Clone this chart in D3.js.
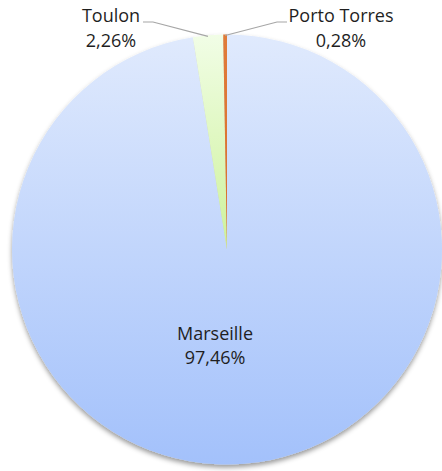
<!DOCTYPE html>
<html lang="fr">
<head>
<meta charset="UTF-8">
<title>Ports</title>
<script src="https://d3js.org/d3.v7.min.js"></script>
<style>
  body { margin: 0; background: #fff; }
  text { font-family: "Open Sans", sans-serif; font-size: 18px; fill: #1f1f1f; }
</style>
</head>
<body>
<div id="chart"></div>
<script>
// values
const ports = ["Marseille", "Toulon", "Porto Torres"];
const shares = [97.46, 2.26, 0.28];
const shareLabels = ["97,46%", "2,26%", "0,28%"];

const width = 442, height = 471;
const cx = 227, cy = 249.5, r = 215;

const svg = d3.select("#chart").append("svg")
    .attr("width", width)
    .attr("height", height);

const defs = svg.append("defs");

// soft shadow under the pie
const shadow = defs.append("filter").attr("id", "shadow")
    .attr("x", "-10%").attr("y", "-10%").attr("width", "120%").attr("height", "120%");
shadow.append("feDropShadow")
    .attr("dx", 0).attr("dy", 3).attr("stdDeviation", 2.5)
    .attr("flood-color", "#000").attr("flood-opacity", 0.4);

// vertical gradients, one per slice
const gradStops = [
    ["#e0eafd", "#a3c1fb"],
    ["#f1fde6", "#cdf29a"],
    ["#e07b39", "#d8702c"]
];
gradStops.forEach((s, i) => {
    const g = defs.append("linearGradient").attr("id", "g" + i)
        .attr("x1", 0).attr("y1", 0).attr("x2", 0).attr("y2", 1);
    g.append("stop").attr("offset", "0%").attr("stop-color", s[0]);
    g.append("stop").attr("offset", "100%").attr("stop-color", s[1]);
});

const pie = d3.pie().sort(null).value(d => d)(shares);
const arc = d3.arc().innerRadius(0).outerRadius(r);

const g = svg.append("g").attr("transform", `translate(${cx},${cy})`);

g.append("g").attr("filter", "url(#shadow)")
  .selectAll("path")
  .data(pie)
  .join("path")
    .attr("d", arc)
    .attr("fill", (d, i) => `url(#g${i})`);

// Marseille label inside the slice
const inner = g.append("text")
    .attr("text-anchor", "middle")
    .attr("transform", `translate(-12, 90)`);
inner.append("tspan").attr("x", 0).attr("dy", 0).text(ports[0]);
inner.append("tspan").attr("x", 0).attr("dy", 24).text(shareLabels[0]);

// outside labels with leader lines
const outArc = d3.arc().innerRadius(r).outerRadius(r);
const outside = [
    { i: 1, tx: -116, knee: -74, lineEnd: -84 },
    { i: 2, tx: 114, knee: 50, lineEnd: 60 }
];
outside.forEach(o => {
    const p = outArc.centroid(pie[o.i]);
    const ly = -227.5;
    g.append("polyline")
        .attr("points", [[p[0], p[1] + 1], [o.knee, ly], [o.lineEnd, ly]].map(q => q.join(",")).join(" "))
        .attr("fill", "none")
        .attr("stroke", "#a6a6a6")
        .attr("stroke-width", 1.2);
    const t = g.append("text").attr("text-anchor", "middle")
        .attr("transform", `translate(${o.tx},${ly})`);
    t.append("tspan").attr("x", 0).text(ports[o.i]);
    t.append("tspan").attr("x", 0).attr("dy", 25).text(shareLabels[o.i]);
});
</script>
</body>
</html>
